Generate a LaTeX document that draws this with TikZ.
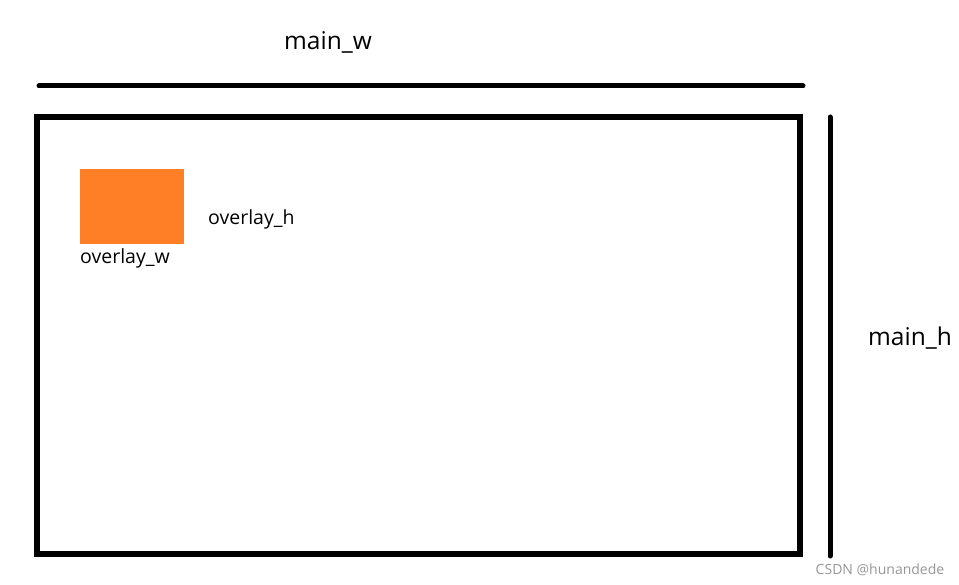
\documentclass[tikz,border=0pt]{standalone}
\usepackage{fontspec}
\setmainfont{Open Sans}
\usepackage{xcolor}
\usetikzlibrary{positioning}
\definecolor{ink}{RGB}{0,0,0}
\definecolor{overlayfill}{RGB}{255,127,39}
\definecolor{markgray}{RGB}{150,150,150}
\tikzset{
  frame/.style={draw=ink, line width=6pt},
  dimline/.style={draw=ink, line width=5pt, line cap=round},
  dimlabel/.style={font=\fontsize{24.5}{28}\selectfont, text=ink, inner sep=0pt},
  smalllabel/.style={font=\fontsize{19.5}{22}\selectfont, text=ink, inner sep=0pt},
  overlaybox/.style={fill=overlayfill, draw=none, minimum width=104pt, minimum height=75pt,
    inner sep=0pt},
  watermark/.style={font=\fontsize{14}{16}\selectfont, text=markgray, inner sep=0pt},
}

\begin{document}
\begin{tikzpicture}[x=1pt, y=-1pt]
  \useasboundingbox (0,0) rectangle (959,585);
  % main area
  \draw[frame] (37,117) rectangle (800,554);
  \node[overlaybox, anchor=north west] (overlay) at (80,169) {};
  % width and height bars
  \coordinate (wl) at (39,86);
  \coordinate (wr) at (803,86);
  \draw[dimline] (wl) -- (wr);
  \coordinate (ht) at (830,117);
  \coordinate (hb) at (830,556);
  \draw[dimline] (ht) -- (hb);
  % labels
  \node[dimlabel] (mainw) at (328,42) {main\_w};
  \node[dimlabel] (mainh) at (910,338) {main\_h};
  \node[smalllabel, anchor=west] (overlayh) at (208,219) {overlay\_h};
  \node[smalllabel, anchor=north west] (overlayw) at (80,248) {overlay\_w};
  \node[watermark] (mark) at (880,570) {CSDN @hunandede};
\end{tikzpicture}
\end{document}
